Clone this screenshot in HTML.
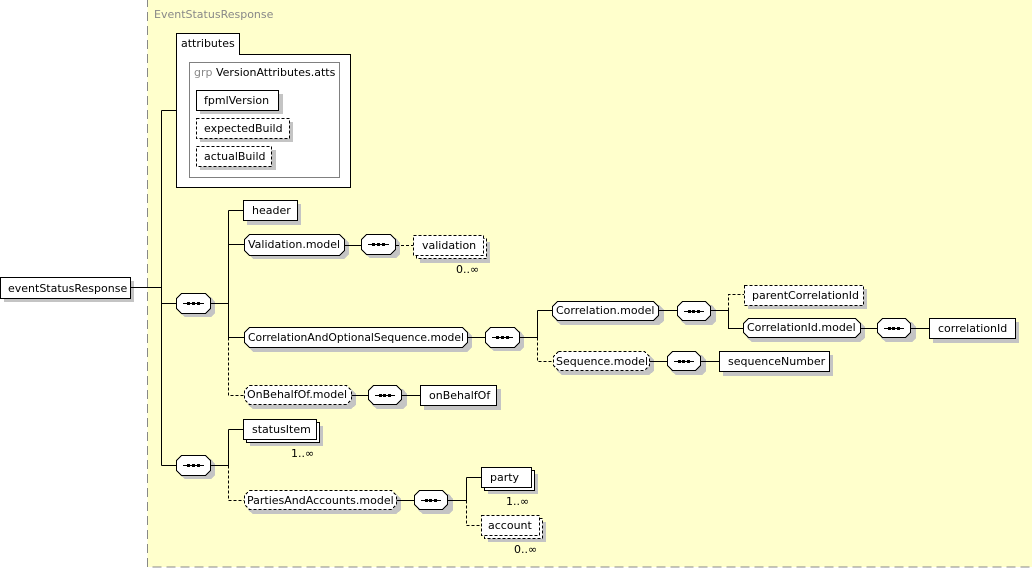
<!DOCTYPE html>
<html><head><meta charset="utf-8"><style>
html,body{margin:0;padding:0;background:#fff}
svg{display:block}
text{font-family:"DejaVu Sans","Liberation Sans",sans-serif;font-size:11px;fill:#000}
.sh{fill:#c4c4c4;stroke:none}
.b{fill:#fff;stroke:#000;stroke-width:1}
.d{fill:#fff;stroke:#000;stroke-width:1;stroke-dasharray:3,2}
.l{stroke:#000;stroke-width:1;fill:none}
.ld{stroke:#000;stroke-width:1;fill:none;stroke-dasharray:3,2}
</style></head><body>
<svg width="1032" height="569" viewBox="0 0 1032 569" xmlns="http://www.w3.org/2000/svg" shape-rendering="crispEdges">
<rect x="147.5" y="-5" width="890" height="572" fill="#ffffcc" stroke="#888" stroke-dasharray="9,5"/>
<text x="154" y="18" style="fill:#888">EventStatusResponse</text>

<rect class="sh" x="4" y="281" width="130" height="21"/>
<rect class="b" x="0.5" y="277.5" width="130" height="21"/>
<text x="8" y="292">eventStatusResponse</text>
<path class="l" d="M130.5 287.5H161.5M161.5 110.5V465.5M161.5 110.5H176M161.5 303.5H176M161.5 465.5H176"/>

<path class="b" d="M176.5 187.5V33.5H239.5V54.5H350.5V187.5Z"/>
<text x="181" y="47">attributes</text>
<rect x="189.5" y="62.5" width="150" height="115" fill="#fff" stroke="#808080"/>
<text x="194" y="76"><tspan style="fill:#888">grp</tspan> VersionAttributes.atts</text>
<rect class="sh" x="200" y="94" width="83" height="20"/>
<rect class="b" x="196.5" y="90.5" width="82" height="20"/>
<text x="204" y="104">fpmlVersion</text>
<rect class="sh" x="200" y="122" width="93" height="20"/>
<rect class="d" x="196.5" y="118.5" width="93" height="20"/>
<text x="204" y="132">expectedBuild</text>
<rect class="sh" x="200" y="150" width="76" height="20"/>
<rect class="d" x="196.5" y="146.5" width="75" height="20"/>
<text x="204" y="160">actualBuild</text>

<g transform="translate(176,293)">
<polygon class="sh" points="9,4 35,4 39,9 39,20 35,24 9,24 4,20 4,9"/>
<polygon class="b" points="5.5,0.5 29.5,0.5 34.5,5.5 34.5,15.5 29.5,20.5 5.5,20.5 0.5,15.5 0.5,5.5"/>
<path class="l" d="M7 10.5H28"/><rect x="11" y="9" width="3" height="3"/><rect x="16" y="9" width="3" height="3"/><rect x="21" y="9" width="3" height="3"/>
</g>
<path class="l" d="M211 303.5H228.5M228.5 210.5V337.5M228.5 210.5H243M228.5 244.5H244M228.5 337.5H244"/>
<path class="ld" d="M228.5 337.5V395.5H244"/>

<rect class="sh" x="247" y="204" width="54" height="21"/>
<rect class="b" x="243.5" y="200.5" width="54" height="20"/>
<text x="252" y="214">header</text>

<polygon class="sh" points="253,238 344,238 349,243 349,254 344,259 253,259 248,254 248,243"/>
<polygon class="b" points="249.5,234.5 339.5,234.5 344.5,239.5 344.5,250.5 339.5,255.5 249.5,255.5 244.5,250.5 244.5,239.5"/>
<text x="248" y="248">Validation.model</text>
<path class="l" d="M344.5 245.5H361"/>
<g transform="translate(361,234)">
<polygon class="sh" points="9,4 35,4 39,9 39,20 35,24 9,24 4,20 4,9"/>
<polygon class="b" points="5.5,0.5 29.5,0.5 34.5,5.5 34.5,15.5 29.5,20.5 5.5,20.5 0.5,15.5 0.5,5.5"/>
<path class="l" d="M7 10.5H28"/><rect x="11" y="9" width="3" height="3"/><rect x="16" y="9" width="3" height="3"/><rect x="21" y="9" width="3" height="3"/>
</g>
<path class="ld" d="M396 245.5H413"/>
<rect class="sh" x="420" y="242" width="70" height="21"/>
<rect class="d" x="416.5" y="238.5" width="70" height="20"/>
<rect class="d" x="413.5" y="235.5" width="70" height="20"/>
<text x="422" y="249">validation</text>
<text x="456" y="273">0..∞</text>

<polygon class="sh" points="253,331 467,331 472,336 472,347 467,352 253,352 248,347 248,336"/>
<polygon class="b" points="249.5,327.5 462.5,327.5 467.5,332.5 467.5,342.5 462.5,347.5 249.5,347.5 244.5,342.5 244.5,332.5"/>
<text x="248" y="341" textLength="216" lengthAdjust="spacingAndGlyphs">CorrelationAndOptionalSequence.model</text>
<path class="l" d="M467.5 337.5H485"/>
<g transform="translate(485,327)">
<polygon class="sh" points="9,4 35,4 39,9 39,20 35,24 9,24 4,20 4,9"/>
<polygon class="b" points="5.5,0.5 29.5,0.5 34.5,5.5 34.5,15.5 29.5,20.5 5.5,20.5 0.5,15.5 0.5,5.5"/>
<path class="l" d="M7 10.5H28"/><rect x="11" y="9" width="3" height="3"/><rect x="16" y="9" width="3" height="3"/><rect x="21" y="9" width="3" height="3"/>
</g>
<path class="l" d="M520 337.5H537.5M537.5 310.5V337.5M537.5 310.5H552"/>
<path class="ld" d="M537.5 337.5V361.5H553"/>

<polygon class="sh" points="561,305 659,305 664,310 664,321 659,325 561,325 556,321 556,310"/>
<polygon class="b" points="557.5,301.5 653.5,301.5 658.5,306.5 658.5,315.5 653.5,320.5 557.5,320.5 552.5,315.5 552.5,306.5"/>
<text x="556" y="314">Correlation.model</text>
<path class="l" d="M658.5 310.5H677"/>
<g transform="translate(677,301)">
<polygon class="sh" points="9,4 35,4 39,9 39,20 35,24 9,24 4,20 4,9"/>
<polygon class="b" points="5.5,0.5 28.5,0.5 33.5,5.5 33.5,14.5 28.5,19.5 5.5,19.5 0.5,14.5 0.5,5.5"/>
<path class="l" d="M7 10.5H27"/><rect x="11" y="9" width="3" height="3"/><rect x="15" y="9" width="3" height="3"/><rect x="20" y="9" width="3" height="3"/>
</g>
<path class="l" d="M711 310.5H728.5M728.5 310.5V328.5H743"/>
<path class="ld" d="M728.5 310.5V294.5H744"/>
<rect class="sh" x="748" y="289" width="119" height="20"/>
<rect class="d" x="744.5" y="285.5" width="119" height="20"/>
<text x="752" y="299">parentCorrelationId</text>

<polygon class="sh" points="752,322 860,322 865,327 865,338 860,342 752,342 747,338 747,327"/>
<polygon class="b" points="748.5,318.5 855.5,318.5 860.5,323.5 860.5,332.5 855.5,337.5 748.5,337.5 743.5,332.5 743.5,323.5"/>
<text x="747" y="331">CorrelationId.model</text>
<path class="l" d="M860.5 328.5H877"/>
<g transform="translate(877,318)">
<polygon class="sh" points="9,4 35,4 39,9 39,20 35,24 9,24 4,20 4,9"/>
<polygon class="b" points="5.5,0.5 28.5,0.5 33.5,5.5 33.5,14.5 28.5,19.5 5.5,19.5 0.5,14.5 0.5,5.5"/>
<path class="l" d="M7 10.5H27"/><rect x="11" y="9" width="3" height="3"/><rect x="15" y="9" width="3" height="3"/><rect x="20" y="9" width="3" height="3"/>
</g>
<path class="l" d="M911 328.5H929"/>
<rect class="sh" x="933" y="322" width="86" height="21"/>
<rect class="b" x="929.5" y="318.5" width="86" height="20"/>
<text x="938" y="332">correlationId</text>

<polygon class="sh" points="562,355 649,355 654,360 654,371 649,375 562,375 557,371 557,360"/>
<polygon class="d" points="558.5,351.5 644.5,351.5 649.5,356.5 649.5,365.5 644.5,370.5 558.5,370.5 553.5,365.5 553.5,356.5"/>
<text x="556" y="365">Sequence.model</text>
<path class="l" d="M649.5 361.5H667"/>
<g transform="translate(667,351)">
<polygon class="sh" points="9,4 35,4 39,9 39,20 35,24 9,24 4,20 4,9"/>
<polygon class="b" points="5.5,0.5 28.5,0.5 33.5,5.5 33.5,14.5 28.5,19.5 5.5,19.5 0.5,14.5 0.5,5.5"/>
<path class="l" d="M7 10.5H27"/><rect x="11" y="9" width="3" height="3"/><rect x="15" y="9" width="3" height="3"/><rect x="20" y="9" width="3" height="3"/>
</g>
<path class="l" d="M701 361.5H719"/>
<rect class="sh" x="723" y="355" width="110" height="21"/>
<rect class="b" x="719.5" y="351.5" width="110" height="20"/>
<text x="728" y="365">sequenceNumber</text>

<polygon class="sh" points="253,389 351,389 356,394 356,405 351,409 253,409 248,405 248,394"/>
<polygon class="d" points="249.5,385.5 346.5,385.5 351.5,390.5 351.5,399.5 346.5,404.5 249.5,404.5 244.5,399.5 244.5,390.5"/>
<text x="247" y="398">OnBehalfOf.model</text>
<path class="l" d="M351.5 395.5H368"/>
<g transform="translate(368,385)">
<polygon class="sh" points="9,4 35,4 39,9 39,20 35,24 9,24 4,20 4,9"/>
<polygon class="b" points="5.5,0.5 28.5,0.5 33.5,5.5 33.5,14.5 28.5,19.5 5.5,19.5 0.5,14.5 0.5,5.5"/>
<path class="l" d="M7 10.5H27"/><rect x="11" y="9" width="3" height="3"/><rect x="15" y="9" width="3" height="3"/><rect x="20" y="9" width="3" height="3"/>
</g>
<path class="l" d="M402 395.5H420"/>
<rect class="sh" x="424" y="389" width="77" height="21"/>
<rect class="b" x="420.5" y="385.5" width="76" height="20"/>
<text x="429" y="399">onBehalfOf</text>

<g transform="translate(176,455)">
<polygon class="sh" points="9,4 35,4 39,9 39,20 35,24 9,24 4,20 4,9"/>
<polygon class="b" points="5.5,0.5 29.5,0.5 34.5,5.5 34.5,15.5 29.5,20.5 5.5,20.5 0.5,15.5 0.5,5.5"/>
<path class="l" d="M7 10.5H28"/><rect x="11" y="9" width="3" height="3"/><rect x="16" y="9" width="3" height="3"/><rect x="21" y="9" width="3" height="3"/>
</g>
<path class="l" d="M211 465.5H228.5M228.5 429.5V465.5M228.5 429.5H243"/>
<path class="ld" d="M228.5 465.5V500.5H244"/>

<rect class="sh" x="250" y="426" width="73" height="20"/>
<rect class="b" x="246.5" y="422.5" width="73" height="20"/>
<rect class="b" x="243.5" y="419.5" width="73" height="20"/>
<text x="252" y="433">statusItem</text>
<text x="291" y="457">1..∞</text>

<polygon class="sh" points="253,494 396,494 401,499 401,510 396,514 253,514 248,510 248,499"/>
<polygon class="d" points="249.5,490.5 391.5,490.5 396.5,495.5 396.5,504.5 391.5,509.5 249.5,509.5 244.5,504.5 244.5,495.5"/>
<text x="247" y="504">PartiesAndAccounts.model</text>
<path class="l" d="M396.5 500.5H414"/>
<g transform="translate(414,490)">
<polygon class="sh" points="9,4 35,4 39,9 39,20 35,24 9,24 4,20 4,9"/>
<polygon class="b" points="5.5,0.5 28.5,0.5 33.5,5.5 33.5,14.5 28.5,19.5 5.5,19.5 0.5,14.5 0.5,5.5"/>
<path class="l" d="M7 10.5H27"/><rect x="11" y="9" width="3" height="3"/><rect x="15" y="9" width="3" height="3"/><rect x="20" y="9" width="3" height="3"/>
</g>
<path class="l" d="M448 500.5H466.5M466.5 477.5V500.5M466.5 477.5H481"/>
<path class="ld" d="M466.5 500.5V525.5H481"/>
<rect class="sh" x="488" y="474" width="50" height="20"/>
<rect class="b" x="484.5" y="470.5" width="50" height="20"/>
<rect class="b" x="481.5" y="467.5" width="50" height="20"/>
<text x="490" y="481">party</text>
<text x="506" y="505">1..∞</text>
<rect class="sh" x="488" y="522" width="58" height="20"/>
<rect class="d" x="484.5" y="518.5" width="58" height="20"/>
<rect class="d" x="481.5" y="515.5" width="58" height="20"/>
<text x="488" y="529">account</text>
<text x="514" y="553">0..∞</text>
</svg>
</body></html>
